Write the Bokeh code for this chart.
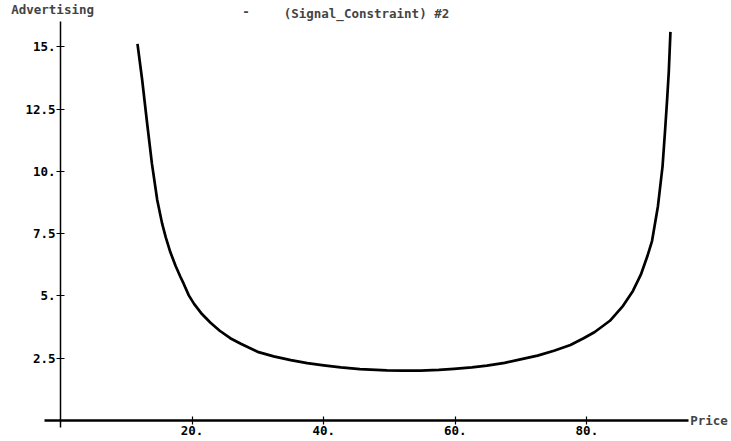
from bokeh.plotting import figure
from bokeh.models import Range1d, LinearAxis, FixedTicker, Label
from bokeh.embed import file_html
from bokeh.resources import INLINE

# ---- data ----
price = [11.7, 12.4, 13.2, 13.9, 14.7, 15.45, 16.0, 16.7, 17.5, 18.2, 18.7, 19.5,
         20.3, 21.5, 22.8, 24.2, 25.8, 27.4, 30.1, 32.4, 35.0, 37.5, 40.0, 42.6,
         45.5, 49.6, 52.0, 54.7, 57.5, 59.8, 62.5, 64.8, 67.5, 69.9, 72.5, 75.0,
         77.5, 79.5, 81.2, 83.5, 85.5, 87.0, 88.2, 89.2, 89.9, 90.8, 91.5, 91.9,
         92.2, 92.45, 92.7]
advertising = [15.12, 13.7, 11.85, 10.3, 8.85, 7.9, 7.35, 6.75, 6.2, 5.78, 5.5, 5.02,
               4.68, 4.27, 3.92, 3.6, 3.3, 3.08, 2.74, 2.57, 2.42, 2.30, 2.21, 2.13,
               2.06, 2.01, 2.00, 2.00, 2.03, 2.07, 2.13, 2.20, 2.31, 2.45, 2.6, 2.8,
               3.03, 3.3, 3.55, 4.0, 4.6, 5.2, 5.85, 6.6, 7.2, 8.6, 10.2, 11.7,
               12.9, 14.0, 15.6]
x_ticks = [20, 40, 60, 80]
x_tick_labels = ["20.", "40.", "60.", "80."]
y_ticks = [2.5, 5, 7.5, 10, 12.5, 15]
y_tick_labels = ["2.5", "5.", "7.5", "10.", "12.5", "15."]
title_text = "(Signal_Constraint) #2"
x_label = "Price"
y_label = "Advertising"

FONT = "DejaVu Sans Mono"
FS = "12.5px"

p = figure(width=731, height=441, output_backend="svg", toolbar_location=None,
           x_axis_type=None, y_axis_type=None,
           x_range=Range1d(-9.12, 101.98), y_range=Range1d(-0.847, 16.86),
           min_border=0, outline_line_color=None)
p.xgrid.visible = False
p.ygrid.visible = False
p.background_fill_color = "white"
p.border_fill_color = "white"

xa = LinearAxis(fixed_location=0, ticker=FixedTicker(ticks=x_ticks),
                major_label_overrides={t: l for t, l in zip(x_ticks, x_tick_labels)},
                bounds=(-2.4, 95.4))
xa.axis_line_width = 2.5
xa.axis_line_color = "black"
xa.major_tick_in = 4
xa.major_tick_out = 4
xa.major_tick_line_width = 1.2
xa.minor_tick_line_color = None
xa.major_label_standoff = 2
xa.major_label_text_font = FONT
xa.major_label_text_font_style = "bold"
xa.major_label_text_font_size = FS
xa.major_label_text_color = "black"
p.add_layout(xa, "below")

ya = LinearAxis(fixed_location=0, ticker=FixedTicker(ticks=y_ticks),
                major_label_overrides={t: l for t, l in zip(y_ticks, y_tick_labels)},
                bounds=(-0.3, 16.0))
ya.axis_line_width = 1.5
ya.axis_line_color = "black"
ya.major_tick_in = 4
ya.major_tick_out = 4
ya.major_tick_line_width = 1.2
ya.minor_tick_line_color = None
ya.major_label_standoff = 1
ya.major_label_text_font = FONT
ya.major_label_text_font_style = "bold"
ya.major_label_text_font_size = FS
ya.major_label_text_color = "black"
p.add_layout(ya, "left")

p.line(price, advertising, line_color="black", line_width=2.7, line_join="round")

p.add_layout(Label(x=-1.2, y=16.0, text=y_label, text_font=FONT, text_font_style="bold",
                   text_font_size=FS, text_align="center", text_baseline="bottom",
                   y_offset=5))
p.add_layout(Label(x=95.7, y=0, text=x_label, text_font=FONT, text_font_style="bold",
                   text_font_size=FS, text_align="left", text_baseline="middle"))
p.add_layout(Label(x=46.5, y=16.86, text=title_text, text_font=FONT, text_font_style="bold",
                   text_font_size=FS, text_align="center", text_baseline="top",
                   y_offset=-5))
p.add_layout(Label(x=28.2, y=16.86, text="-", text_font=FONT, text_font_style="bold",
                   text_font_size=FS, text_align="center", text_baseline="top",
                   y_offset=-6))

open("out.html", "w").write(file_html(p, INLINE))
